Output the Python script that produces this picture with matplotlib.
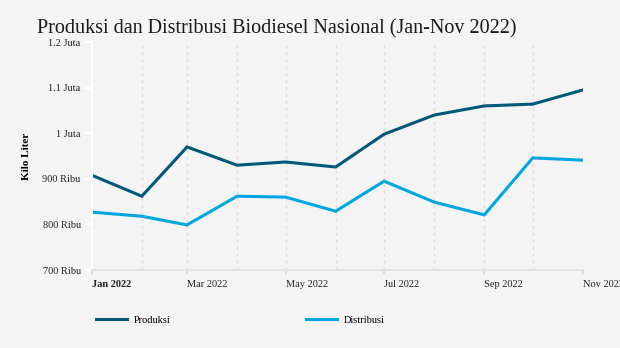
import numpy as np
import pandas as pd
import matplotlib
matplotlib.use("Agg")
from matplotlib import pyplot as plt

months = pd.date_range("2022-01-01", "2022-11-01", freq="MS")
produksi = [908, 862, 970, 930, 937, 926, 998, 1040, 1060, 1064, 1095]
distribusi = [827, 818, 799, 862, 860, 829, 895, 849, 821, 946, 941]
yticks = [700, 800, 900, 1000, 1100, 1200]
ylabels = ["700 Ribu", "800 Ribu", "900 Ribu", "1 Juta", "1.1 Juta", "1.2 Juta"]
xlabels = ["Jan 2022", "Mar 2022", "May 2022", "Jul 2022", "Sep 2022", "Nov 2022"]

bg = "#f4f4f4"
plt.rcParams["font.family"] = ["Liberation Serif", "DejaVu Serif"]

fig = plt.figure(figsize=(6.2, 3.48), dpi=100, facecolor=bg)
ax = fig.add_axes([0.148, 0.224, 0.792, 0.655], facecolor=bg)

ax.plot(months, produksi, color="#005878", lw=2.2, label="Produksi", solid_joinstyle="miter")
ax.plot(months, distribusi, color="#00a6df", lw=2.2, label="Distribusi", solid_joinstyle="miter")

ax.set_xlim(months[0], months[-1])
ax.set_ylim(700, 1200)
ax.set_yticks(yticks)
ax.set_yticklabels(ylabels, fontsize=7.5, color="#222222")
ax.set_xticks(months[::2])
labs = ax.set_xticklabels(xlabels, fontsize=7.5, color="#222222", ha="left")
labs[0].set_fontweight("bold")
ax.set_xticks(months[1::2], minor=True)
ax.tick_params(axis="x", which="major", length=3, color="#dddddd", width=1.5, pad=4)
ax.tick_params(axis="x", which="minor", length=0)
ax.tick_params(axis="y", length=5, color="white", width=1.5, pad=3)

ax.grid(axis="x", which="both", color="#dcdcdc", ls=(0, (2, 3)), lw=1)
for s in ["top", "right"]:
    ax.spines[s].set_visible(False)
ax.spines["left"].set_color("white")
ax.spines["left"].set_linewidth(1.5)
ax.spines["bottom"].set_color("#e2e2e2")
ax.spines["bottom"].set_linewidth(1.5)

ax.set_ylabel("Kilo Liter", fontsize=8, fontweight="bold", labelpad=8)

fig.text(0.06, 0.905, "Produksi dan Distribusi Biodiesel Nasional (Jan-Nov 2022)",
         fontsize=14.5, color="#1a1a1a")

fig.legend(loc="center left", bbox_to_anchor=(0.14, 0.08), ncol=2, frameon=False,
           fontsize=7.5, handlelength=3, columnspacing=13, handletextpad=0.6)

fig.savefig("out.png", dpi=100, facecolor=bg)
